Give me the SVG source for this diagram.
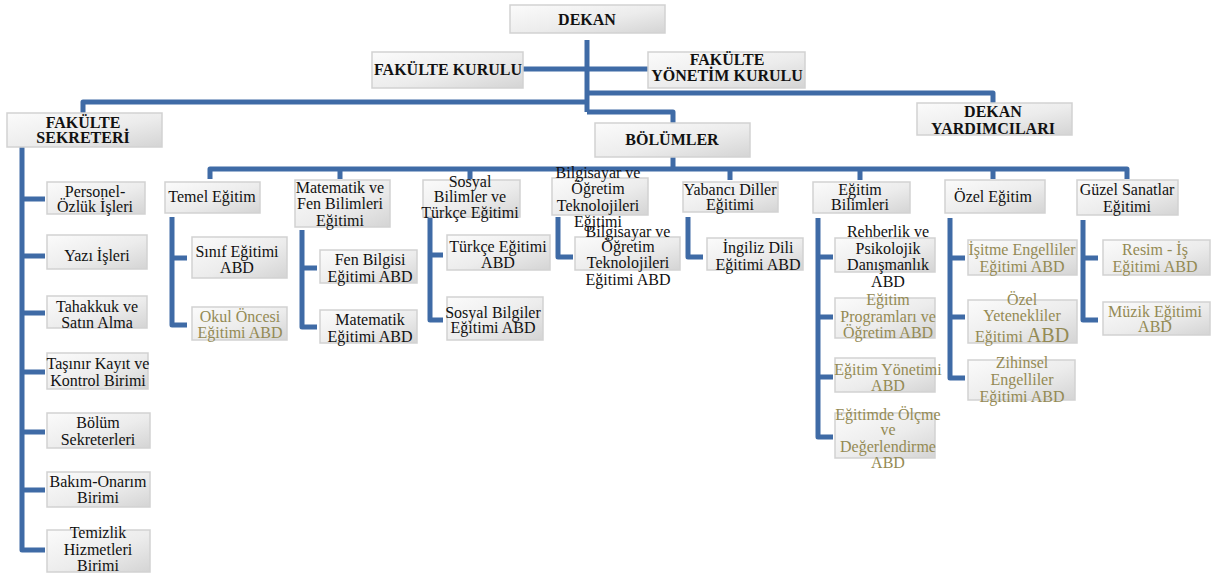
<svg xmlns="http://www.w3.org/2000/svg" width="1211" height="579" viewBox="0 0 1211 579">
<defs>
<linearGradient id="bg" x1="0" y1="0" x2="1" y2="1">
<stop offset="0" stop-color="#fbfbfb"/>
<stop offset="0.55" stop-color="#ececec"/>
<stop offset="1" stop-color="#d4d4d4"/>
</linearGradient>
<style>
.b{fill:url(#bg);stroke:#d2d2d2;stroke-width:1.5}
text{font-family:"Liberation Serif","Times New Roman",serif;font-size:16px;fill:#111;text-anchor:middle}
.h{font-weight:bold;font-size:16px}
.g{fill:#948a54}
.c{fill:none;stroke:#3f6ba6;stroke-width:5;stroke-linejoin:round;stroke-linecap:butt}
</style>
</defs>
<rect width="1211" height="579" fill="#fff"/>

<g id="connectors">
<path class="c" d="M587,40 V112"/>
<path class="c" d="M523,69 H648"/>
<path class="c" d="M587,93 H993 V103"/>
<path class="c" d="M587,102 H83 V113"/>
<path class="c" d="M587,112 H673 V123"/>
<path class="c" d="M673,157 V169"/>
<path class="c" d="M210,179 V169 H1127 V179"/>
<path class="c" d="M340,169 V179 M470,169 V179 M730,169 V180 M860,169 V180 M993,169 V179"/>
<path class="c" d="M22,147 V550 H45 M22,199 H45 M22,256 H45 M22,313 H45 M22,372 H45 M22,432 H45 M22,490 H45"/>
<path class="c" d="M172,217 V325 H187 M172,258 H187"/>
<path class="c" d="M302,230 V327 H317 M302,268 H317"/>
<path class="c" d="M430,217 V320 H443 M430,255 H443"/>
<path class="c" d="M558,217 V257 H573"/>
<path class="c" d="M688,217 V257 H703"/>
<path class="c" d="M818,218 V437 H833 M818,257 H833 M818,317 H833 M818,377 H833"/>
<path class="c" d="M950,218 V378 H965 M950,258 H965 M950,317 H965"/>
<path class="c" d="M1083,220 V320 H1098 M1083,258 H1098"/>
</g>

<g id="dekan"><rect class="b" x="510" y="5" width="155" height="28"/><text class="h" x="587" y="25">DEKAN</text></g>
<g id="fakulte-kurulu"><rect class="b" x="372" y="52" width="151" height="36"/><text class="h" x="448" y="75">FAKÜLTE KURULU</text></g>
<g id="fakulte-yonetim"><rect class="b" x="648" y="52" width="157" height="36"/><text class="h" x="727" y="65">FAKÜLTE</text><text class="h" x="727" y="81">YÖNETİM KURULU</text></g>
<g id="fakulte-sekreteri"><rect class="b" x="7" y="113" width="155" height="34"/><text class="h" x="83" y="128">FAKÜLTE</text><text class="h" x="83" y="143">SEKRETERİ</text></g>
<g id="bolumler"><rect class="b" x="595" y="123" width="155" height="34"/><text class="h" x="672" y="145">BÖLÜMLER</text></g>
<g id="dekan-yardimcilari"><rect class="b" x="917" y="103" width="155" height="32"/><text class="h" x="993" y="117">DEKAN</text><text class="h" x="993" y="134">YARDIMCILARI</text></g>

<g id="personel"><rect class="b" x="47" y="182" width="98" height="32"/><text x="95" y="197">Personel-</text><text x="95" y="212">Özlük İşleri</text></g>
<g id="yazi"><rect class="b" x="47" y="235" width="100" height="34"/><text x="97" y="261">Yazı İşleri</text></g>
<g id="tahakkuk"><rect class="b" x="47" y="296" width="100" height="32"/><text x="97" y="312">Tahakkuk  ve</text><text x="97" y="328">Satın Alma</text></g>
<g id="tasinir"><rect class="b" x="47" y="353" width="101" height="36"/><text x="98" y="369">Taşınır Kayıt ve</text><text x="98" y="386">Kontrol Birimi</text></g>
<g id="bolum-sek"><rect class="b" x="47" y="413" width="103" height="35"/><text x="98" y="428">Bölüm</text><text x="98" y="445">Sekreterleri</text></g>
<g id="bakim"><rect class="b" x="47" y="472" width="103" height="35"/><text x="98" y="487">Bakım-Onarım</text><text x="98" y="503">Birimi</text></g>
<g id="temizlik"><rect class="b" x="47" y="530" width="103" height="42"/><text x="98" y="538">Temizlik</text><text x="98" y="555">Hizmetleri</text><text x="98" y="571">Birimi</text></g>

<g id="temel"><rect class="b" x="165" y="182" width="95" height="31"/><text x="212" y="202">Temel Eğitim</text></g>
<g id="matfen"><rect class="b" x="295" y="180" width="95" height="47"/><text x="340" y="193">Matematik ve</text><text x="340" y="209">Fen Bilimleri</text><text x="340" y="226">Eğitimi</text></g>
<g id="sosyal"><rect class="b" x="423" y="180" width="97" height="37"/><text x="470" y="187">Sosyal</text><text x="470" y="202">Bilimler ve</text><text x="470" y="218">Türkçe Eğitimi</text></g>
<g id="bilgisayar"><rect class="b" x="552" y="178" width="96" height="37"/><text x="598" y="178">Bilgisayar ve</text><text x="598" y="194">Öğretim</text><text x="598" y="211">Teknolojileri</text><text x="598" y="227">Eğitimi</text></g>
<g id="yabanci"><rect class="b" x="683" y="182" width="95" height="30"/><text x="730" y="195">Yabancı Diller</text><text x="730" y="210">Eğitimi</text></g>
<g id="egitim-bil"><rect class="b" x="813" y="182" width="97" height="31"/><text x="860" y="195">Eğitim</text><text x="860" y="210">Bilimleri</text></g>
<g id="ozel"><rect class="b" x="945" y="180" width="100" height="33"/><text x="993" y="202">Özel Eğitim</text></g>
<g id="guzel"><rect class="b" x="1077" y="180" width="101" height="35"/><text x="1127" y="195">Güzel Sanatlar</text><text x="1127" y="212">Eğitimi</text></g>

<g id="sinif"><rect class="b" x="192" y="237" width="95" height="41"/><text x="237" y="257">Sınıf Eğitimi</text><text x="237" y="273">ABD</text></g>
<g id="okul"><rect class="b" x="192" y="307" width="95" height="33"/><text class="g" x="240" y="322">Okul Öncesi</text><text class="g" x="240" y="338">Eğitimi ABD</text></g>
<g id="fen"><rect class="b" x="320" y="250" width="97" height="33"/><text x="370" y="265">Fen Bilgisi</text><text x="370" y="282">Eğitimi ABD</text></g>
<g id="mat"><rect class="b" x="320" y="310" width="97" height="33"/><text x="370" y="325">Matematik</text><text x="370" y="342">Eğitimi ABD</text></g>
<g id="turkce"><rect class="b" x="447" y="235" width="103" height="35"/><text x="498" y="252">Türkçe Eğitimi</text><text x="498" y="268">ABD</text></g>
<g id="sosyal-bilgiler"><rect class="b" x="447" y="297" width="96" height="43"/><text x="493" y="318">Sosyal Bilgiler</text><text x="493" y="333">Eğitimi ABD</text></g>
<g id="bote"><rect class="b" x="575" y="237" width="105" height="33"/><text x="628" y="237">Bilgisayar ve</text><text x="628" y="252">Öğretim</text><text x="628" y="268">Teknolojileri</text><text x="628" y="285">Eğitimi ABD</text></g>
<g id="ingiliz"><rect class="b" x="707" y="238" width="96" height="32"/><text x="758" y="253">İngiliz Dili</text><text x="758" y="270">Eğitimi ABD</text></g>
<g id="rehberlik"><rect class="b" x="835" y="238" width="100" height="34"/><text x="888" y="237">Rehberlik ve</text><text x="888" y="254">Psikolojik</text><text x="888" y="270">Danışmanlık</text><text x="888" y="287">ABD</text></g>
<g id="program"><rect class="b" x="835" y="298" width="100" height="40"/><text class="g" x="888" y="305">Eğitim</text><text class="g" x="888" y="322">Programları ve</text><text class="g" x="888" y="338">Öğretim ABD</text></g>
<g id="yonetim"><rect class="b" x="835" y="358" width="100" height="34"/><text class="g" x="888" y="375">Eğitim Yönetimi</text><text class="g" x="888" y="391">ABD</text></g>
<g id="olcme"><rect class="b" x="835" y="413" width="100" height="45"/><text class="g" x="888" y="420">Eğitimde Ölçme</text><text class="g" x="888" y="435">ve</text><text class="g" x="888" y="452">Değerlendirme</text><text class="g" x="888" y="468">ABD</text></g>
<g id="isitme"><rect class="b" x="968" y="240" width="109" height="35"/><text class="g" x="1022" y="255">İşitme Engelliler</text><text class="g" x="1022" y="272">Eğitimi ABD</text></g>
<g id="yetenekli"><rect class="b" x="968" y="300" width="109" height="43"/><text class="g" x="1022" y="305">Özel</text><text class="g" x="1022" y="321">Yetenekliler</text><text class="g" x="1022" y="342">Eğitimi <tspan style="font-size:20px">ABD</tspan></text></g>
<g id="zihinsel"><rect class="b" x="968" y="360" width="107" height="40"/><text class="g" x="1022" y="368">Zihinsel</text><text class="g" x="1022" y="385">Engelliler</text><text class="g" x="1022" y="402">Eğitimi ABD</text></g>
<g id="resim"><rect class="b" x="1103" y="240" width="107" height="35"/><text class="g" x="1155" y="255">Resim - İş</text><text class="g" x="1155" y="272">Eğitimi ABD</text></g>
<g id="muzik"><rect class="b" x="1103" y="302" width="107" height="33"/><text class="g" x="1155" y="317">Müzik Eğitimi</text><text class="g" x="1155" y="332">ABD</text></g>
</svg>
